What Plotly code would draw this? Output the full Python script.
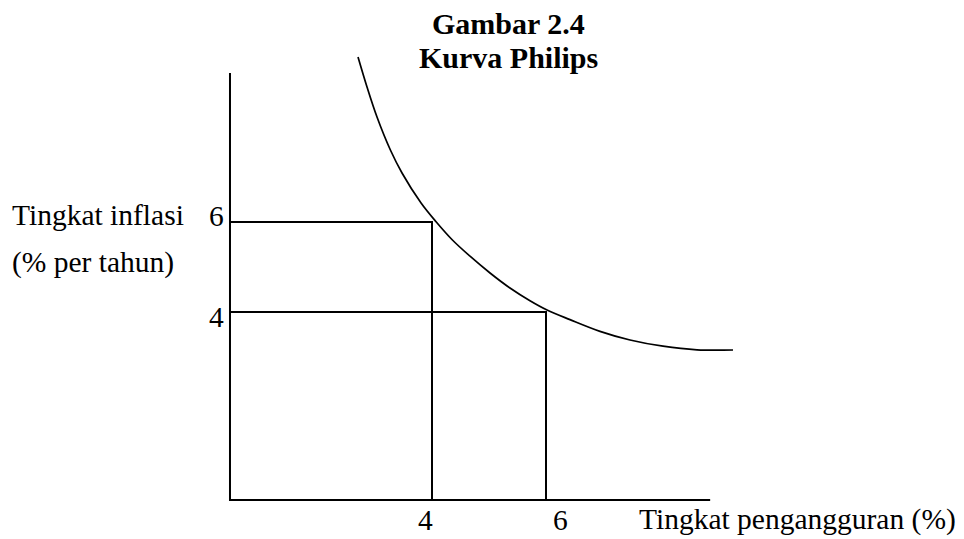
import plotly.graph_objects as go

# ---- data (schematic units) ----
curve_x = [2.702, 2.860, 3.035, 3.270, 3.474, 3.808, 4.075, 4.358, 4.667, 5.018,
           5.368, 5.719, 6.018, 6.421, 6.947, 7.474, 8.053, 8.649, 9.281]
curve_y = [9.667, 9.000, 8.333, 7.600, 7.089, 6.422, 6.000, 5.600, 5.240, 4.867,
           4.533, 4.250, 4.044, 3.830, 3.570, 3.378, 3.240, 3.160, 3.156]

points_x = [4, 6]          # unemployment rate (%)
points_y = [6, 4]          # inflation rate (% per year)

x_tick_vals = [4, 6]
x_tick_text = ["4", "6"]
y_tick_vals = [6, 4]
y_tick_text = ["6", "4"]

axis_origin_x = 0.456
axis_origin_y = -0.178
axis_end_x = 8.88
axis_end_y = 9.31

title_lines = ["Gambar 2.4", "Kurva Philips"]
y_title_lines = ["Tingkat inflasi", "(% per tahun)"]
x_title = "Tingkat pengangguran (%)"

FONT = "Liberation Serif, Times New Roman, serif"
FS = 29.5
FS_TITLE = 30

# page body has an 8px default margin: build the figure 8px smaller and
# place everything relative to the visible page
OFF = 8
W, H = 964 - OFF, 539 - OFF


def px_x(p):
    return (p - OFF) / W


def px_y(p):
    return 1 - (p - OFF) / H


fig = go.Figure()

# axes
fig.add_trace(go.Scatter(x=[axis_origin_x, axis_origin_x, axis_end_x],
                         y=[axis_end_y, axis_origin_y, axis_origin_y],
                         mode="lines", line=dict(color="black", width=2),
                         hoverinfo="skip", showlegend=False))

# drop lines for each point
for px, py in zip(points_x, points_y):
    fig.add_trace(go.Scatter(x=[axis_origin_x, px, px],
                             y=[py, py, axis_origin_y],
                             mode="lines", line=dict(color="black", width=2),
                             hoverinfo="skip", showlegend=False))

# Phillips curve
fig.add_trace(go.Scatter(x=curve_x, y=curve_y, mode="lines",
                         line=dict(color="black", width=1.7, shape="spline", smoothing=1.0),
                         hoverinfo="skip", showlegend=False))

ann = []
# x tick labels (sit on the bottom edge of the figure)
x_shifts = [-7, 14]
for v, t, s in zip(x_tick_vals, x_tick_text, x_shifts):
    ann.append(dict(x=v, y=0, xref="x", yref="paper", text=t, showarrow=False,
                    xshift=s, yanchor="bottom", yshift=1,
                    font=dict(family=FONT, size=FS, color="black")))
# y tick labels
y_shift_y = [6, -5]
for v, t, s in zip(y_tick_vals, y_tick_text, y_shift_y):
    ann.append(dict(x=axis_origin_x, y=v, xref="x", yref="y", text=t, showarrow=False,
                    xanchor="right", xshift=-4, yshift=s,
                    font=dict(family=FONT, size=FS, color="black")))
# y-axis title
for i, line in enumerate(y_title_lines):
    ann.append(dict(x=px_x(10), y=px_y(215 + 47 * i), xref="paper", yref="paper",
                    text=line, showarrow=False, xanchor="left", yanchor="middle",
                    font=dict(family=FONT, size=FS, color="black")))
# x-axis title
ann.append(dict(x=px_x(637), y=0, xref="paper", yref="paper", text=x_title,
                showarrow=False, xanchor="left", yanchor="bottom", yshift=1,
                font=dict(family=FONT, size=FS, color="black")))
# chart title
for i, line in enumerate(title_lines):
    ann.append(dict(x=px_x(508), y=px_y(24 + 34 * i), xref="paper", yref="paper",
                    text="<b>" + line + "</b>", showarrow=False, xanchor="center",
                    yanchor="middle", font=dict(family=FONT, size=FS_TITLE, color="black")))

# pixel mapping on page: x px = 432 + (x-4)*57 ; y px = 312 - (y-4)*45
fig.update_layout(
    width=W, height=H,
    margin=dict(l=0, r=0, t=0, b=0),
    paper_bgcolor="white", plot_bgcolor="white",
    xaxis=dict(range=[4 - (432 - OFF) / 57, 4 + (964 - 432) / 57], visible=False, fixedrange=True),
    yaxis=dict(range=[4 - (539 - 312) / 45, 4 + (312 - OFF) / 45], visible=False, fixedrange=True),
    annotations=ann,
    showlegend=False,
)

fig.write_html("out.html")
